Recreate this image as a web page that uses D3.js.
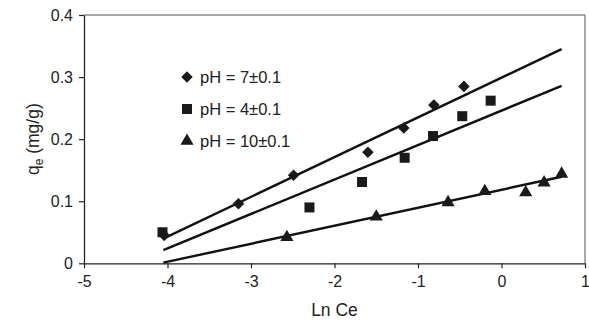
<!DOCTYPE html>
<html><head><meta charset="utf-8">
<script src="https://cdn.jsdelivr.net/npm/d3@7"></script>
<style>body{margin:0;background:#fff}svg{display:block}text{font-family:"Liberation Sans",Arial,sans-serif;fill:#222}</style>
</head><body><svg id="c" width="589" height="324"></svg>
<script>
const xTicks = [-5, -4, -3, -2, -1, 0, 1];
const xTickLabels = ["-5", "-4", "-3", "-2", "-1", "0", "1"];
const yTicks = [0, 0.1, 0.2, 0.3, 0.4];
const yTickLabels = ["0", "0.1", "0.2", "0.3", "0.4"];
const seriesNames = ["pH = 7±0.1", "pH = 4±0.1", "pH = 10±0.1"];
const seriesShapes = ["diamond", "square", "triangle"];
const ph7x = [-4.04, -3.15, -2.49, -1.60, -1.17, -0.81, -0.45];
const ph7y = [0.045, 0.096, 0.142, 0.179, 0.218, 0.255, 0.285];
const ph4x = [-4.06, -2.30, -1.67, -1.16, -0.82, -0.47, -0.13];
const ph4y = [0.050, 0.090, 0.131, 0.170, 0.205, 0.237, 0.262];
const ph10x = [-2.57, -1.50, -0.64, -0.20, 0.29, 0.51, 0.72];
const ph10y = [0.042, 0.075, 0.098, 0.116, 0.114, 0.130, 0.144];
const fitSlope = [0.064, 0.0555, 0.029];
const fitIntercept = [0.299, 0.246, 0.1185];
const fitRange = [-4.05, 0.72];

const svg = d3.select("#c");
const L = 84, R = 585, T = 15, B = 263.3;
const x = d3.scaleLinear().domain([-5, 1]).range([L, R]);
const y = d3.scaleLinear().domain([0, 0.4]).range([B, T]);
const FONT = '"Liberation Sans",Arial,sans-serif';

// frame
svg.append("line").attr("x1", L).attr("x2", R).attr("y1", T).attr("y2", T).attr("stroke", "#555").attr("stroke-width", 1);
svg.append("line").attr("x1", R).attr("x2", R).attr("y1", T).attr("y2", B).attr("stroke", "#555").attr("stroke-width", 1);

const xa = svg.append("g").attr("transform", `translate(0,${B})`)
  .call(d3.axisBottom(x).tickValues(xTicks).tickSize(5).tickSizeOuter(0).tickFormat((d, i) => xTickLabels[i]));
const ya = svg.append("g").attr("transform", `translate(${L},0)`)
  .call(d3.axisLeft(y).tickValues(yTicks).tickSize(5).tickSizeOuter(0).tickFormat((d, i) => yTickLabels[i]));
[xa, ya].forEach(a => {
  a.select(".domain").attr("stroke", "#222").attr("stroke-width", 1.3);
  a.selectAll(".tick line").attr("stroke", "#222").attr("stroke-width", 1.2);
  a.selectAll(".tick text").attr("font-size", 16).attr("fill", "#2a2a2a").style("font-family", FONT);
});
xa.selectAll(".tick text").attr("dy", "1.0em");
ya.selectAll(".tick text").attr("x", -11);

// fitted lines
fitSlope.forEach((m, i) => {
  const pts = fitRange.map(v => [x(v), y(m * v + fitIntercept[i])]);
  svg.append("path").attr("d", d3.line()(pts)).attr("stroke", "#111").attr("stroke-width", 2.4).attr("fill", "none");
});

const sym = {
  diamond: d3.symbol().type(d3.symbolDiamond2).size(85),
  square: d3.symbol().type(d3.symbolSquare).size(100),
  triangle: d3.symbol().type(d3.symbolTriangle).size(75)
};
const series = [[ph7x, ph7y], [ph4x, ph4y], [ph10x, ph10y]];
series.forEach(([xs, ys], i) => {
  svg.append("g").selectAll("path").data(xs).join("path")
    .attr("d", sym[seriesShapes[i]]())
    .attr("transform", (d, j) => `translate(${x(d)},${y(ys[j])})`)
    .attr("fill", "#1a1a1a");
});

// legend
seriesNames.forEach((n, i) => {
  const ly = 77 + i * 32;
  svg.append("path").attr("d", sym[seriesShapes[i]]()).attr("transform", `translate(187,${ly})`).attr("fill", "#1a1a1a");
  svg.append("text").attr("x", 200).attr("y", ly).attr("dy", "0.36em").attr("font-size", 16.5).attr("fill", "#2a2a2a").text(n);
});

// axis titles
svg.append("text").attr("x", x(-2)).attr("y", 316).attr("text-anchor", "middle").attr("font-size", 17.5).attr("fill", "#2a2a2a").text("Ln Ce");
const yt = svg.append("text").attr("transform", `translate(39,${(T + B) / 2}) rotate(-90)`).attr("text-anchor", "middle").attr("font-size", 17.5).attr("fill", "#2a2a2a");
yt.append("tspan").text("q");
yt.append("tspan").attr("font-size", 12).attr("dy", 4).text("e");
yt.append("tspan").attr("dy", -4).text(" (mg/g)");
</script></body></html>
